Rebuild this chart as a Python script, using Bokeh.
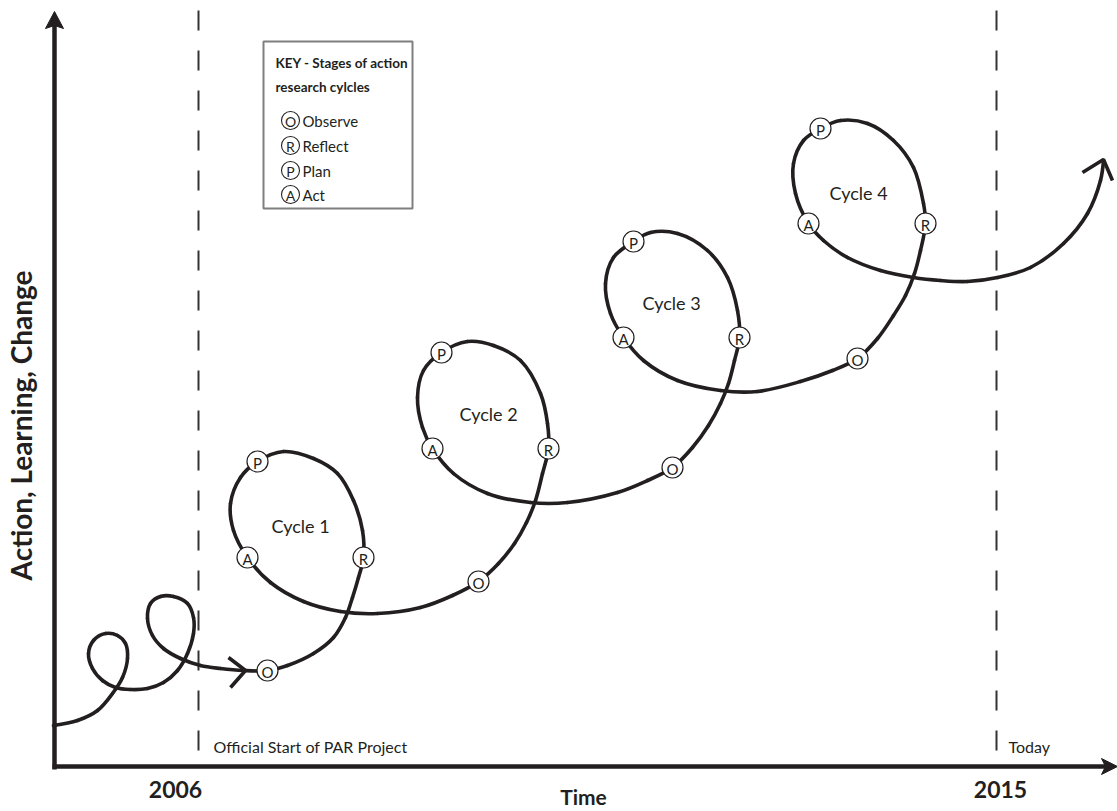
import numpy as np
from bokeh.plotting import figure
from bokeh.models import Range1d, Label
from bokeh.embed import file_html
from bokeh.resources import INLINE
from bokeh.core.properties import value

# ---------------- data (pixel space, y downward) -------------
path_x = [53, 77, 97, 112, 122, 127, 125, 117, 105, 93, 88, 92, 102, 115, 130, 147, 163, 177, 187, 193,
          193, 187, 173, 160, 150, 147, 152, 163, 180, 200, 220, 243, 267,
          287, 313, 333, 345, 352, 358, 363, 362, 353, 337, 313, 283, 257, 240, 230, 233, 247, 270, 303,
          340, 377, 420, 452, 478,
          498, 514, 526, 535, 542, 548,
          547, 540, 520, 493, 467, 441, 423, 417, 422, 432, 453, 487, 530, 567, 617, 647, 672,
          692, 708, 720, 728, 734, 739,
          737, 727, 707, 677, 650, 633, 613, 605, 610, 623, 643, 677, 720, 757, 800, 832, 857,
          877, 893, 905, 914, 920, 925,
          923, 913, 893, 867, 840, 820, 803, 793, 795, 808, 823, 847, 880, 913, 940, 967, 997, 1030,
          1063, 1087, 1100, 1103]
path_y = [725, 720, 710, 693, 677, 658, 643, 635, 633, 640, 653, 668, 680, 687, 689, 688, 682, 670, 653, 633,
          617, 603, 596, 596, 603, 618, 635, 648, 658, 665, 668, 670, 670,
          665, 653, 637, 617, 597, 577, 557, 530, 500, 473, 458, 451, 461, 477, 503, 530, 557, 582, 601,
          611, 613, 607, 595, 581,
          563, 543, 522, 500, 473, 448,
          423, 393, 360, 345, 341, 352, 370, 397, 427, 448, 473, 493, 502, 502, 492, 480, 467,
          447, 425, 403, 383, 360, 337,
          310, 277, 250, 233, 232, 241, 257, 283, 313, 337, 360, 380, 390, 391, 381, 370, 358,
          338, 315, 295, 273, 250, 223,
          203, 167, 140, 123, 120, 128, 140, 163, 193, 223, 240, 257, 270, 277, 280, 281, 277, 267,
          243, 213, 180, 160]

stage_letter = ["O", "R", "P", "A", "O", "R", "P", "A", "O", "R", "P", "A", "O", "R", "P", "A"]
stage_x = [267, 363, 257, 247, 478, 548, 441, 432, 672, 739, 633, 623, 857, 925, 820, 808]
stage_y = [670, 557, 461, 557, 581, 448, 352, 448, 467, 337, 241, 337, 358, 223, 128, 223]

cycle_labels = ["Cycle 1", "Cycle 2", "Cycle 3", "Cycle 4"]
cycle_x = [300, 488, 671, 858]
cycle_y = [525, 413, 302, 192]

key_title = ["KEY - Stages of action", "research cylcles"]
key_letters = ["O", "R", "P", "A"]
key_names = ["Observe", "Reflect", "Plan", "Act"]

year_labels = ["2006", "2015"]
year_line_x = [198, 996]
year_label_x = [175, 1000]
milestone_labels = ["Official Start of PAR Project", "Today"]

x_title = "Time"
y_title = "Action, Learning, Change"

INK = "#231f20"
FONT = "Lato"


def catmull_bezier(xs, ys, alpha=0.5):
    pts = np.column_stack([xs, ys]).astype(float)
    pts = np.vstack([pts[0], pts, pts[-1]])
    out = {k: [] for k in ["x0", "y0", "x1", "y1", "cx0", "cy0", "cx1", "cy1"]}
    for i in range(1, len(pts) - 2):
        p0, p1, p2, p3 = pts[i - 1], pts[i], pts[i + 1], pts[i + 2]
        d1 = max(np.linalg.norm(p1 - p0), 1e-6) ** alpha
        d2 = max(np.linalg.norm(p2 - p1), 1e-6) ** alpha
        d3 = max(np.linalg.norm(p3 - p2), 1e-6) ** alpha
        b1 = (d1 * d1 * p2 - d2 * d2 * p0 + (2 * d1 * d1 + 3 * d1 * d2 + d2 * d2) * p1) / (3 * d1 * (d1 + d2))
        b2 = (d3 * d3 * p1 - d2 * d2 * p3 + (2 * d3 * d3 + 3 * d3 * d2 + d2 * d2) * p2) / (3 * d3 * (d3 + d2))
        out["x0"].append(p1[0]); out["y0"].append(p1[1])
        out["x1"].append(p2[0]); out["y1"].append(p2[1])
        out["cx0"].append(b1[0]); out["cy0"].append(b1[1])
        out["cx1"].append(b2[0]); out["cy1"].append(b2[1])
    return out


p = figure(width=1117, height=811, x_range=Range1d(0, 1117), y_range=Range1d(811, 0),
           output_backend="svg", toolbar_location=None, min_border=0)
p.axis.visible = False
p.grid.visible = False
p.outline_line_color = None
p.background_fill_color = "white"
p.border_fill_color = "white"

# dashed milestone lines
for xv in year_line_x:
    p.line([xv, xv], [10, 764], line_color="#333333", line_width=2, line_dash="20 20")

# axes with arrow heads
p.line([54, 54], [769, 24], line_color=INK, line_width=4.5)
p.patch([54, 45, 54, 63], [11, 28, 25, 28], fill_color=INK, line_color=INK, line_width=1)
p.line([52, 1106], [766, 766], line_color=INK, line_width=4.5)
p.patch([1117, 1101, 1105, 1101], [766, 758, 766, 774], fill_color=INK, line_color=INK, line_width=1)

# spiral path
bz = catmull_bezier(path_x, path_y)
p.bezier(x0=bz["x0"], y0=bz["y0"], x1=bz["x1"], y1=bz["y1"], cx0=bz["cx0"], cy0=bz["cy0"],
         cx1=bz["cx1"], cy1=bz["cy1"], line_color=INK, line_width=3.6, line_cap="round")

# arrow chevrons on the path
p.line([228, 245, 230], [657, 670, 687], line_color=INK, line_width=3.6)
p.line([1082, 1103, 1112], [172, 159, 180], line_color=INK, line_width=3.6)

# stage markers
p.scatter(stage_x, stage_y, size=21, marker="circle", fill_color="white", line_color=INK, line_width=1.2)
p.text(stage_x, [v + 1 for v in stage_y], text=stage_letter, text_align="center", text_baseline="middle",
       text_font=value(FONT), text_font_size="15px", text_color=INK)

# cycle labels
p.text(cycle_x, cycle_y, text=cycle_labels, text_align="center", text_baseline="middle",
       text_font=value(FONT), text_font_size="18px", text_color=INK)

# key box
p.quad(left=[263], right=[412], top=[41], bottom=[208], fill_color="white", line_color="#7f7f7f", line_width=2)
p.text([275, 275], [62, 86], text=key_title, text_align="left", text_baseline="middle",
       text_font=value(FONT), text_font_size="13.5px", text_font_style="bold", text_color=INK)
key_y = [120, 145, 170, 194]
p.scatter([290] * 4, key_y, size=18, marker="circle", fill_color="white", line_color=INK, line_width=1.1)
p.text([290] * 4, [v + 1 for v in key_y], text=key_letters, text_align="center", text_baseline="middle",
       text_font=value(FONT), text_font_size="14px", text_color=INK)
p.text([302] * 4, key_y, text=key_names, text_align="left", text_baseline="middle",
       text_font=value(FONT), text_font_size="15px", text_color=INK)

# milestone texts
p.text([213, 1008], [746, 746], text=milestone_labels, text_align="left", text_baseline="middle",
       text_font=value(FONT), text_font_size="16px", text_color=INK)

# year labels and axis titles
p.text(year_label_x, [789, 789], text=year_labels, text_align="center", text_baseline="middle",
       text_font=value(FONT), text_font_size="23px", text_font_style="bold", text_color=INK)
p.add_layout(Label(x=583, y=796, text=x_title, text_align="center", text_baseline="middle",
                   text_font=FONT, text_font_size="21px", text_font_style="bold", text_color=INK))
p.add_layout(Label(x=20, y=425, text=y_title, text_align="center", text_baseline="middle", angle=np.pi / 2,
                   text_font=FONT, text_font_size="28px", text_font_style="bold", text_color=INK))

open("out.html", "w").write(file_html(p, INLINE))
